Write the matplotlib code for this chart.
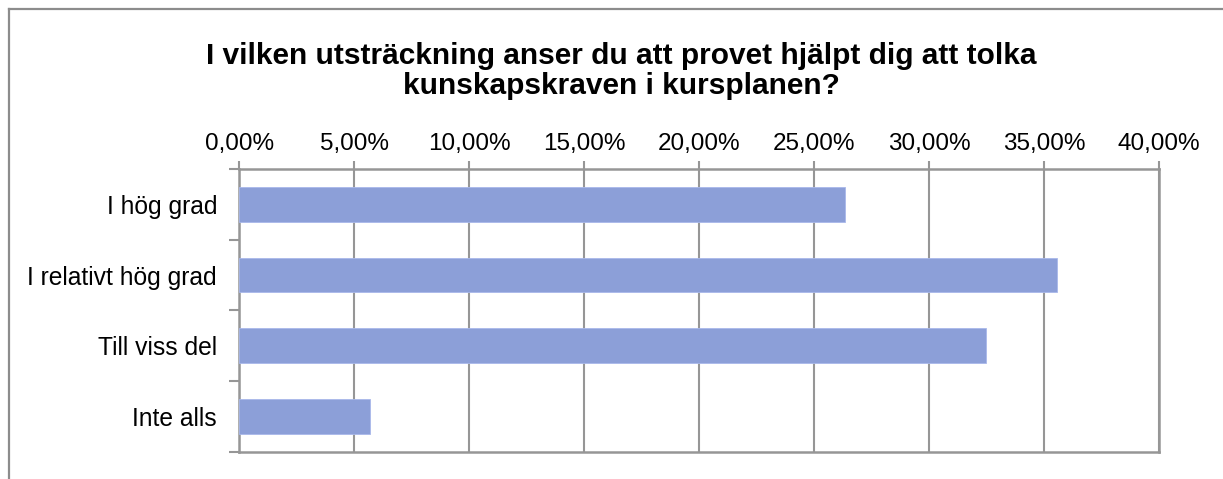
import matplotlib
matplotlib.use("Agg")
import matplotlib.pyplot as plt
from matplotlib.ticker import FuncFormatter, MultipleLocator, FixedLocator
from matplotlib.lines import Line2D

plt.rcParams["font.family"] = ["Liberation Sans", "DejaVu Sans"]

# data
categories = ["I hög grad", "I relativt hög grad", "Till viss del", "Inte alls"]
values = [26.32, 35.56, 32.46, 5.66]
title = "I vilken utsträckning anser du att provet hjälpt dig att tolka\nkunskapskraven i kursplanen?"

gray = "#969696"
bar_color = "#8c9fd8"

fig = plt.figure(figsize=(12.23, 4.79), dpi=100)
ax = fig.add_axes([0.1957, 0.0570, 0.7522, 0.5896])

ypos = list(range(len(categories)))
ax.barh(ypos, values, height=0.49, color=bar_color, edgecolor="#a9b8ea",
        linewidth=0.6, zorder=3)

ax.set_xlim(0, 40)
ax.set_ylim(len(categories) - 0.5, -0.5)

# x axis on top
ax.xaxis.tick_top()
ax.xaxis.set_major_locator(MultipleLocator(5))
ax.xaxis.set_major_formatter(FuncFormatter(lambda v, p: f"{v:.2f}%".replace(".", ",")))
ax.tick_params(axis="x", which="major", length=6, width=1.5, color=gray,
               labelsize=17.5, pad=4)

# y axis: labels at categories, tick marks at boundaries
ax.set_yticks(ypos)
ax.set_yticklabels(categories)
ax.yaxis.set_minor_locator(FixedLocator([i - 0.5 for i in range(len(categories) + 1)]))
ax.tick_params(axis="y", which="major", length=0, labelsize=17.7, pad=16)
ax.tick_params(axis="y", which="minor", length=7, width=1.5, color=gray)

ax.grid(axis="x", color=gray, linewidth=1.5)
ax.set_axisbelow(True)
for s in ax.spines.values():
    s.set_color(gray)
    s.set_linewidth(1.8)

fig.text(621 / 1223, 1 - 71 / 479, title, ha="center", va="center",
         fontsize=21.5, fontweight="bold", linespacing=1.12)

# chart border (left and top edges visible)
bx, by = 9 / 1223, 1 - 9 / 479
fig.add_artist(Line2D([bx, bx], [-0.1, by], color="#8c8c8c", lw=1.6, transform=fig.transFigure))
fig.add_artist(Line2D([bx, 1.1], [by, by], color="#8c8c8c", lw=1.6, transform=fig.transFigure))

fig.savefig("out.png", dpi=100)
